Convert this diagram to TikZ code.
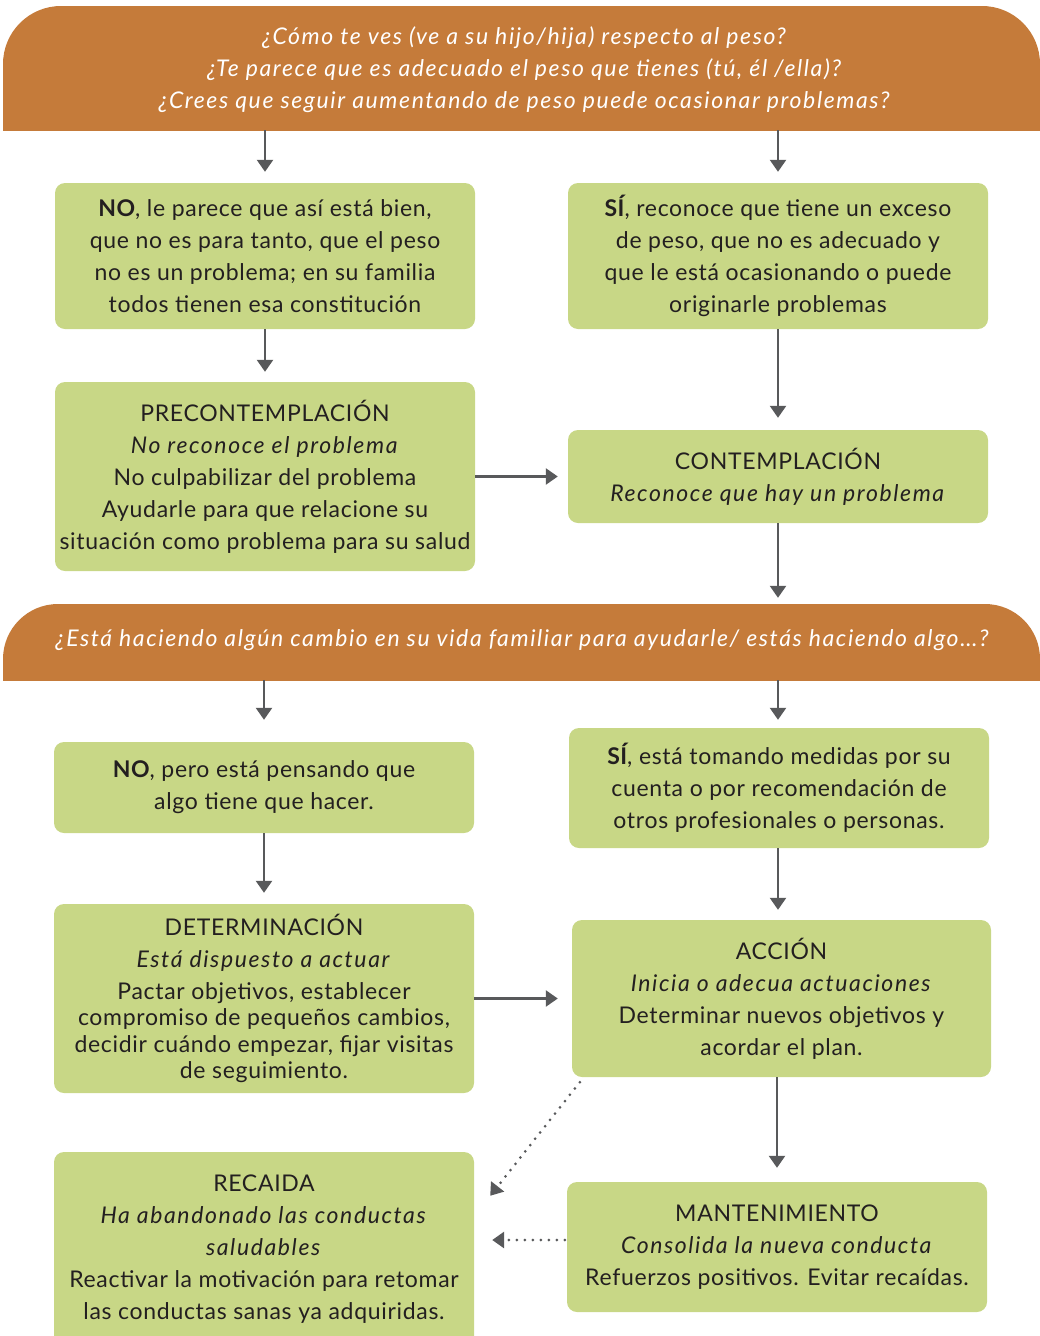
\documentclass[tikz,border=0pt]{standalone}
\usepackage{fontspec}
\setmainfont{Lato}[LetterSpace=3, ItalicFeatures={LetterSpace=7}, BoldFeatures={LetterSpace=2}]
\usetikzlibrary{arrows.meta}
\definecolor{hdr}{HTML}{C57B3A}
\definecolor{grn}{HTML}{C8D786}
\definecolor{arr}{HTML}{58595B}
\definecolor{txt}{HTML}{231F20}
\begin{document}
\begin{tikzpicture}[x=1pt,y=-1pt,
  box/.style={fill=grn, rounded corners=10pt, align=center, text=txt,
    font=\fontsize{23}{32}\selectfont, inner sep=0pt},
  hdtext/.style={text=white, align=center, font=\fontsize{23}{32}\selectfont\itshape, inner sep=0pt},
  hdarea/.style={inner sep=0pt, minimum width=1037pt},
  conn/.style={draw=arr, line width=2.5pt, -{Triangle[width=16pt,length=12pt]}},
  dotconn/.style={conn, line width=3pt, dash pattern=on 0pt off 8pt, line cap=round}]
\useasboundingbox (0,0) rectangle (1040,1336);

% headers
\begin{scope}
  \clip (0,0) rectangle (1040,130);
  \fill[hdr, rounded corners=58pt] (3,6) rectangle (1040,250);
\end{scope}
\begin{scope}
  \clip (0,604) rectangle (1040,680);
  \fill[hdr, rounded corners=55pt] (3,604) rectangle (1040,760);
\end{scope}
\node[hdarea, minimum height=124pt] (H1) at (521.5,68) {};
\node[hdtext] (h1t) at (524,70) {¿Cómo te ves (ve a su hijo/hija) respecto al peso?\\
  ¿Te parece que es adecuado el peso que tienes (tú, él /ella)?\\
  ¿Crees que seguir aumentando de peso puede ocasionar problemas?};
\node[hdarea, minimum height=76pt] (H2) at (521.5,642) {};
\node[hdtext] (h2t) at (522,640) {¿Está haciendo algún cambio en su vida familiar para ayudarle/ estás haciendo algo…?};

% boxes
\node[box, minimum width=420pt, minimum height=146pt] (no1) at (265,256)
  {\textbf{NO}, le parece que así está bien,\\ que no es para tanto, que el peso\\ no es un problema; en su familia\\ todos tienen esa constitución};
\node[box, minimum width=420pt, minimum height=146pt] (si1) at (778,256)
  {\textbf{SÍ}, reconoce que tiene un exceso\\ de peso, que no es adecuado y\\ que le está ocasionando o puede\\ originarle problemas};
\node[box, minimum width=420pt, minimum height=189pt] (pre) at (265,476.5)
  {PRECONTEMPLACIÓN\\ \textit{No reconoce el problema}\\ No culpabilizar del problema\\ Ayudarle para que relacione su\\ situación como problema para su salud};
\node[box, minimum width=420pt, minimum height=93pt] (con) at (778,476.5)
  {CONTEMPLACIÓN\\ \textit{Reconoce que hay un problema}};
\node[box, minimum width=420pt, minimum height=91pt] (nop) at (264,787.5)
  {\textbf{NO}, pero está pensando que\\ algo tiene que hacer.};
\node[box, minimum width=420pt, minimum height=120pt] (si2) at (779,788)
  {\textbf{SÍ}, está tomando medidas por su\\ cuenta o por recomendación de\\ otros profesionales o personas.};
\node[box, minimum width=420pt, minimum height=189pt] (det) at (264,998.5)
  {DETERMINACIÓN\\ \textit{Está dispuesto a actuar}\\ Pactar objetivos, establecer\\[-5.5pt] compromiso de pequeños cambios,\\[-5.5pt] decidir cuándo empezar, fijar visitas\\[-5.5pt] de seguimiento.};
\node[box, minimum width=419pt, minimum height=157pt] (acc) at (781.5,998.5)
  {ACCIÓN\\ \textit{Inicia o adecua actuaciones}\\ Determinar nuevos objetivos y\\ acordar el plan.};
\node[box, minimum width=420pt, minimum height=194pt] (rec) at (264,1249)
  {RECAIDA\\ \textit{Ha abandonado las conductas}\\ \textit{saludables}\\ Reactivar la motivación para retomar\\ las conductas sanas ya adquiridas.};
\node[box, minimum width=420pt, minimum height=130pt] (mant) at (777,1247)
  {MANTENIMIENTO\\ \textit{Consolida la nueva conducta}\\ Refuerzos positivos. Evitar recaídas.};

% connectors
\draw[conn, shorten >=11pt] (H1.south -| no1) -- (no1.north);
\draw[conn, shorten >=11pt] (H1.south -| si1) -- (si1.north);
\draw[conn, shorten >=10pt] (no1.south) -- (pre.north);
\draw[conn, shorten >=12pt] (si1.south) -- (con.north);
\draw[conn, shorten >=10pt] (pre.east) -- (con.west);
\draw[conn, shorten >=6pt] (con.south) -- (con.south |- H2.north);
\draw[conn, shorten >=22pt] (H2.south -| nop) -- (nop.north);
\draw[conn, shorten >=8pt] (H2.south -| si2.north) ++(-1,0) coordinate (s2a) -- (s2a |- si2.north);
\draw[conn, shorten >=11pt] (nop.south) -- (det.north);
\draw[conn, shorten >=10pt] ([xshift=-1pt]si2.south) -- ([xshift=-1pt]si2.south |- acc.north);
\draw[conn, shorten >=14pt] (det.east) -- (acc.west);
\draw[conn, shorten >=14pt] (mant.north |- acc.south) -- (mant.north);
\draw[dotconn] ([shift={(8,5)}]acc.south west) -- ([shift={(16,44)}]rec.north east);
\draw[dotconn, shorten >=18pt, shorten <=2pt] ([yshift=7pt]mant.west) -- ([yshift=7pt]mant.west -| rec.east);
\end{tikzpicture}
\end{document}
